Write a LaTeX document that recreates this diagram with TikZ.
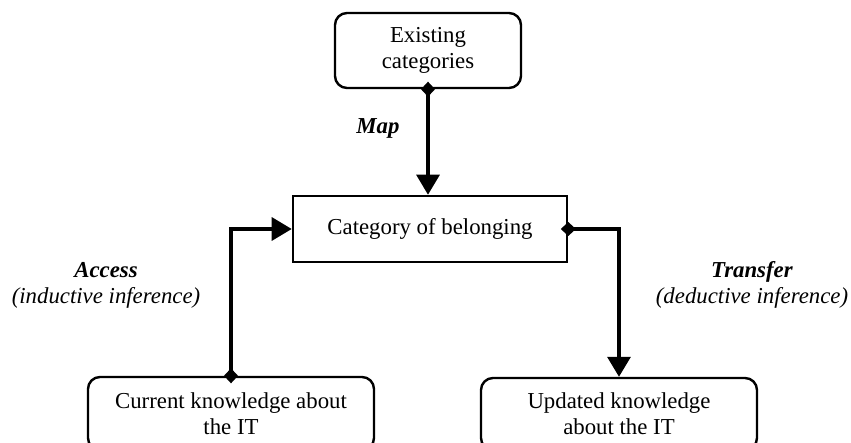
\documentclass[tikz,border=0pt]{standalone}
\usepackage{fontspec}
\setmainfont{Liberation Serif}
\usetikzlibrary{arrows.meta}
\begin{document}
\begin{tikzpicture}[x=1pt,y=-1pt,
  every node/.style={font=\fontsize{22.8}{26}\selectfont, align=center, inner sep=0pt},
  roundbox/.style={draw, line width=2.4pt, rounded corners=12pt},
  plainbox/.style={draw, line width=2.6pt},
  conn/.style={line width=3.2pt, {Diamond[length=15pt,width=14pt]}-{Triangle[length=20pt,width=23pt]}, shorten <=-7.5pt},
  lab/.style={font=\fontsize{22.8}{26}\selectfont}]
\useasboundingbox (0,0) rectangle (851,443);
\clip (0,0) rectangle (851,443);
\node[roundbox, minimum width=186pt, minimum height=75pt] (top) at (428,50.5) {Existing\\categories};
\node[plainbox, minimum width=274pt, minimum height=66pt] (mid) at (430,229) {Category of belonging};
\node[roundbox, minimum width=286pt, minimum height=73pt] (lb) at (231,413.5) {Current knowledge about\\the IT};
\node[roundbox, minimum width=276pt, minimum height=72pt] (rb) at (619,414) {Updated knowledge\\about the IT};
\draw[conn] (top.south) -- (top.south |- mid.north);
\draw[conn] (lb.north) |- (mid.west);
\draw[conn] (mid.east) -| (rb.north);
\node[lab] (map) at (378,128) {\textbf{\textit{Map}}};
\node[lab] (acc) at (106,285) {\textbf{\textit{Access}}\\\textit{(inductive inference)}};
\node[lab] (tra) at (752,285) {\textbf{\textit{Transfer}}\\\textit{(deductive inference)}};
\end{tikzpicture}
\end{document}
